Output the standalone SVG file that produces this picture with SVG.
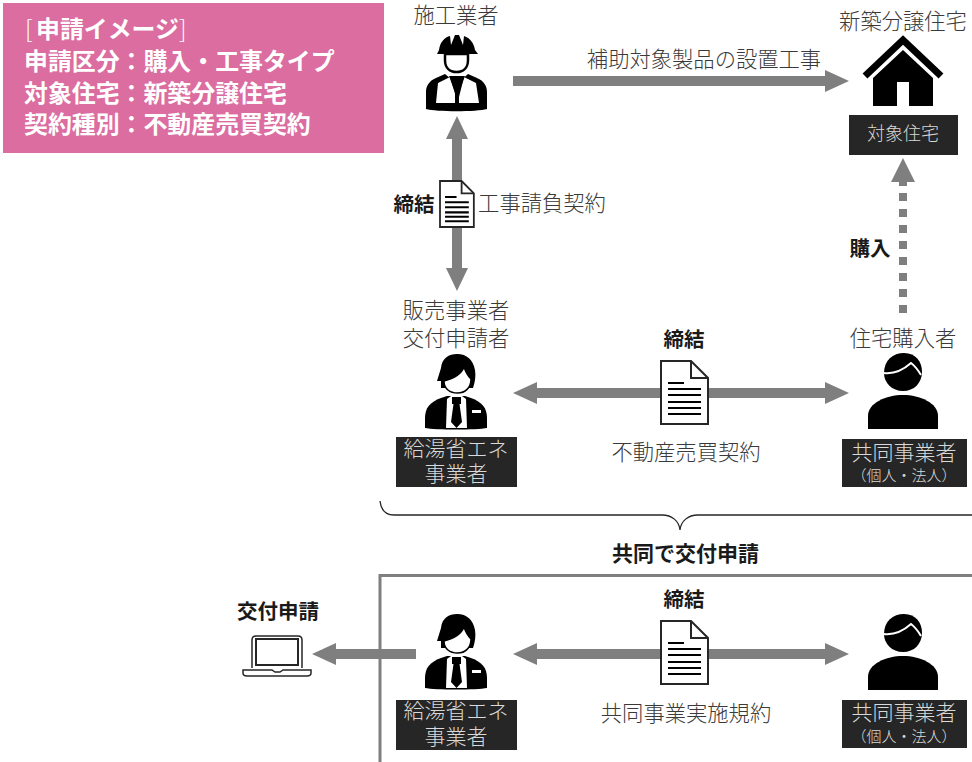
<svg xmlns="http://www.w3.org/2000/svg" width="972" height="762" viewBox="0 0 972 762">
<style>
text{font-family:"Noto Sans CJK JP","Noto Sans",sans-serif;fill:#3a3a3a;text-anchor:middle;font-size:21.300px;font-weight:300}
.b{font-weight:700;fill:#1a1a1a;font-size:20.500px}
.w{fill:#d9d9d9;font-size:21px}
.s{fill:#d9d9d9;font-size:15px}
.p{fill:#fff;font-weight:700;font-size:23.900px;text-anchor:start}
.lb{fill:#262626}
.ar{stroke:#7f7f7f;stroke-width:10;fill:none}
.hd{fill:#7f7f7f}
</style>
<defs>
<g id="doc"><path d="M661 361H691L708 378V424H661Z" fill="#fff" stroke="#262626" stroke-width="2"/><path d="M691 361V378H708" fill="none" stroke="#262626" stroke-width="2"/><path d="M668 383H684M668 389H701M668 395H701M668 402H701M668 408H701M668 414H701" stroke="#000" stroke-width="2" fill="none"/></g>
<g id="man">
<path d="M441 398C430 402 425 408 425 418V428C435 430 477 430 487 428V418C487 408 482 402 471 398L465 396H447Z" fill="#000"/>
<path d="M437 381L441 368C442 358 449 354 457 354C467 354 473 360 475 370C476 376 475 382 473 388H441L441 381Z" fill="#000"/>
<path d="M444 381C452 379 461 375 464 367C466 373 469 377 471 379C471 388 465 393 457.500 393C450 393 444 389 444 381Z" fill="#fff" stroke="#000" stroke-width="1.500"/>
<path d="M447 399L451 396H462L466 399L467 428H446Z" fill="#fff"/>
<path d="M452 397H461V404H459.500L462 422L456.500 428L451 422L453.500 404H452Z" fill="#000"/>
<rect x="472" y="410" width="9" height="3" fill="#fff"/></g>
<g id="per"><path d="M884 373C884 360 893 353 904 353C916 353 922 362 922 372C922 383 914 391 903 391C892 391 884 383 884 373Z" fill="#000"/><path d="M884 373C893 374 902 371 911 363C915 366 918 370 921 375" fill="none" stroke="#fff" stroke-width="2"/><path d="M868 429V416C868 403 886 395 903 395C920 395 938 403 938 416V429Z" fill="#000"/></g>
</defs>
<g id="connectors">
<path class="ar" d="M513 81H830"/><path class="hd" d="M849 81L825 70V92Z"/>
<path class="ar" d="M457 135V272"/><path class="hd" d="M457 116L446 139H468ZM457 291L446 268H468Z"/>
<path d="M903 313V193" stroke="#7f7f7f" stroke-width="8" stroke-dasharray="8 8" fill="none"/><path class="ar" d="M903 180V186" style="stroke-width:8"/><path class="hd" d="M903 158L891 182H915Z"/>
<path class="ar" d="M532 393H830"/><path class="hd" d="M513 393L537 382V404ZM849 393L825 382V404Z"/>
<path class="ar" d="M532 654H830"/><path class="hd" d="M513 654L537 643V665ZM849 654L825 643V665Z"/>
<path class="ar" d="M416 654H330"/><path class="hd" d="M312 654L336 643V665Z"/>
</g>
<g id="panel"><rect x="3" y="3" width="381" height="150" fill="#db6da0"/>
<text class="p" y="38"><tspan x="25" style="font-weight:300">[</tspan><tspan x="36">申請イメージ</tspan><tspan x="179" style="font-weight:300">]</tspan></text><text class="p" x="24" y="70">申請区分：購入・工事タイプ</text><text class="p" x="24" y="102">対象住宅：新築分譲住宅</text><text class="p" x="24" y="133">契約種別：不動産売買契約</text></g>
<g id="worker"><text x="456" y="23">施工業者</text>
<path d="M439 50C440 42 445 37 450 36L451 45L455 35H459L463 45L464 36C470 38 474 43 475 50L478 54H437Z" fill="#000"/>
<path d="M445 54H468V60C468 68 463 72 456.500 72C450 72 445 68 445 60Z" fill="#fff" stroke="#000" stroke-width="2.500"/>
<path d="M445 74L436 78C429 81 426 86 426 92V109C436 112 477 112 487 109V92C487 86 484 81 477 78L468 74L457 84Z" fill="#000"/>
<path d="M438 83L450 77L456 97L455 103H436ZM476 83L464 77L459 97L459 103H479Z" fill="#fff"/>
<path d="M449 76H465L459 92V103H455V92Z" fill="#000"/></g>
<g id="house"><text x="903" y="29">新築分譲住宅</text>
<path d="M865 76L903 40L941 76" fill="none" stroke="#000" stroke-width="7"/>
<path d="M903 50L933 78V106H909V82H897V106H873V78Z" fill="#000"/>
<rect x="849" y="115" width="109" height="40" class="lb"/><text class="w" x="903" y="140" style="font-size:18px">対象住宅</text></g>
<g id="contract1"><text class="b" x="414" y="212">締結</text><g transform="translate(440 181) scale(.72 .73) translate(-661 -361)"><path d="M661 361H691L708 378V424H661Z" fill="#fff" stroke="#262626" stroke-width="2.500"/><path d="M691 361V378H708" fill="none" stroke="#262626" stroke-width="2.500"/><path d="M668 383H684M668 390H701M668 397H701M668 404H701M668 410H701M668 416H701" stroke="#000" stroke-width="2.800"/></g><text x="542" y="211">工事請負契約</text></g>
<g id="buy"><text class="b" x="870" y="256">購入</text></g>
<g id="seller"><text x="456" y="318">販売事業者</text><text x="456" y="346">交付申請者</text><use href="#man"/>
<rect x="396" y="437" width="121" height="50" class="lb"/><text class="w" x="456" y="456">給湯省エネ</text><text class="w" x="456" y="481">事業者</text></g>
<g id="buyer"><text x="903" y="346">住宅購入者</text><use href="#per"/>
<rect x="842" y="439" width="125" height="48" class="lb"/><text class="w" x="904" y="460">共同事業者</text><text class="s" x="904" y="481">（個人・法人）</text></g>
<g id="contract2"><text class="b" x="684" y="347">締結</text><use href="#doc"/><text x="686" y="460">不動産売買契約</text></g>
<g id="brace"><path d="M380 501C381 510 386 515 394 515H662C672 515 679 521 680 530C681 521 688 515 698 515H972" fill="none" stroke="#262626" stroke-width="1.300"/><text class="b" x="685.500" y="561" style="font-size:21px">共同で交付申請</text></g>
<g id="box"><path d="M380 762V575.500H972" fill="none" stroke="#7f7f7f" stroke-width="3"/></g>
<g id="laptop"><text class="b" x="278" y="619">交付申請</text>
<path d="M252 668V640Q252 636 256 636H298Q302 636 302 640V668" fill="none" stroke="#262626" stroke-width="1.500"/><rect x="256" y="639" width="42" height="26" fill="none" stroke="#262626" stroke-width="2"/>
<path d="M243 670H272L275 672H280L283 670H311V673Q311 676 307 676H247Q243 676 243 673Z" fill="#fff" stroke="#262626" stroke-width="1.500"/></g>
<g id="applicant"><use href="#man" y="260"/><rect x="396" y="700" width="121" height="50" class="lb"/><text class="w" x="456" y="718">給湯省エネ</text><text class="w" x="456" y="744">事業者</text></g>
<g id="partner"><use href="#per" y="261"/><rect x="842" y="700" width="125" height="48" class="lb"/><text class="w" x="904" y="720">共同事業者</text><text class="s" x="904" y="742">（個人・法人）</text></g>
<g id="contract3"><text class="b" x="684" y="607">締結</text><use href="#doc" y="260"/><text x="686" y="721">共同事業実施規約</text></g>
<g id="top-label"><text x="704" y="67">補助対象製品の設置工事</text></g>
</svg>
